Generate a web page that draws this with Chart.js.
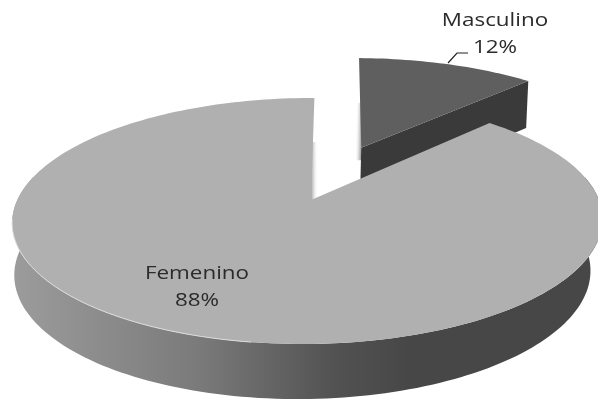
<!DOCTYPE html>
<html>
<head>
<meta charset="utf-8">
<script src="https://cdn.jsdelivr.net/npm/chart.js@4"></script>
<style>
  html, body { margin: 0; padding: 0; background: #fff; }
  #box { width: 598px; height: 400px; }
</style>
</head>
<body>
<div id="box"><canvas id="chart" width="598" height="400"></canvas></div>
<script>
const categories = ['Masculino', 'Femenino'];
const shares = [12, 88];
const sliceColors = ['#5f5f5f', '#b0b0b0'];
const cutColors = ['#3a3a3a', '#a2a2a2'];

// the pie plane as Excel's 3D view shows it: tilted, with some perspective
const view = { x: 311, y: 200, a: 290.8, b: 119.4, k: -0.1707, m: 0.0098, s: -4 };

function project(px, py, drop) {
  const w = 1 + view.k * py + view.m * px;
  const sx = view.x + (view.a * px + view.s * py) / w;
  const sy = view.y + view.b * py / w;
  if (!drop) return [sx, sy];
  // the bottom rim sits a bit narrower and further left than the top one
  return [303 + (sx - 308) * 0.976, sy + 73 - 21.6 * w];
}

function trace(ctx, pts, move) {
  pts.forEach((p, i) => {
    if (i === 0 && move) ctx.moveTo(p[0], p[1]);
    else ctx.lineTo(p[0], p[1]);
  });
}

// angles come straight from the arc element chart.js laid out
function rim(arc, from, to, drop) {
  const d = arc.options.offset / arc.outerRadius;
  const mid = (arc.startAngle + arc.endAngle) / 2;
  const ox = Math.cos(mid) * d;
  const oy = Math.sin(mid) * d;
  const pts = [];
  const n = Math.max(2, Math.ceil(Math.abs(to - from) * 40));
  for (let i = 0; i <= n; i++) {
    const t = from + (to - from) * i / n;
    pts.push(project(ox + Math.cos(t), oy + Math.sin(t), drop));
  }
  pts.centre = project(ox, oy, drop);
  return pts;
}

function drawMasculino(ctx, arc, color, cut) {
  const top = rim(arc, arc.startAngle, arc.endAngle, false);
  const low = rim(arc, arc.endAngle, arc.endAngle, true);
  const apex = top.centre;
  const lowApex = [apex[0], low.centre[1]];
  const end = top[top.length - 1];
  ctx.save();
  // small correction so the pulled out slice lands where the picture has it
  ctx.transform(1.0337, 0.00307, -0.02426, 1.0226, -12.76, -2.42);
  // faint shade left of the slice, the back of the gap
  const g = ctx.createLinearGradient(apex[0] - 6, 0, apex[0], 0);
  g.addColorStop(0, 'rgba(255,255,255,0)');
  g.addColorStop(1, '#9a9a9a');
  ctx.fillStyle = g;
  ctx.fillRect(apex[0] - 6, 102, 6, 56);
  // cut face on the right side of the slice
  ctx.fillStyle = cut;
  ctx.beginPath();
  ctx.moveTo(apex[0], apex[1]);
  ctx.lineTo(end[0], end[1]);
  ctx.lineTo(end[0] - 1, end[1] + 46);
  ctx.lineTo(lowApex[0], lowApex[1]);
  ctx.closePath();
  ctx.fill();
  // top face
  ctx.fillStyle = color;
  ctx.beginPath();
  ctx.moveTo(apex[0], apex[1]);
  trace(ctx, top, false);
  ctx.closePath();
  ctx.fill();
  ctx.restore();
}

function drawFemenino(ctx, arc, color, cut) {
  const top = rim(arc, arc.startAngle, arc.endAngle, false);
  // outer wall, only the front half shows
  const wallTop = rim(arc, -0.2, Math.PI + 0.2, false);
  const wallLow = rim(arc, Math.PI + 0.2, -0.2, true);
  const grad = ctx.createLinearGradient(12, 0, 598, 0);
  grad.addColorStop(0, '#9c9c9c');
  grad.addColorStop(0.32, '#7a7a7a');
  grad.addColorStop(0.55, '#525252');
  grad.addColorStop(0.68, '#474747');
  grad.addColorStop(1, '#474747');
  ctx.fillStyle = grad;
  ctx.beginPath();
  trace(ctx, wallTop, true);
  trace(ctx, wallLow, false);
  ctx.closePath();
  ctx.fill();

  // cut face along the vertical edge of the gap
  const c = project(0, 0, false);
  const strip = ctx.createLinearGradient(c[0], 0, c[0] + 7, 0);
  strip.addColorStop(0, cut);
  strip.addColorStop(1, 'rgba(255,255,255,0)');
  ctx.fillStyle = strip;
  ctx.fillRect(c[0], 142, 7, c[1] - 142);

  // top face
  ctx.fillStyle = color;
  ctx.beginPath();
  ctx.moveTo(top.centre[0], top.centre[1]);
  trace(ctx, top, false);
  ctx.closePath();
  ctx.fill();

  // pale rim along the front edge
  ctx.strokeStyle = '#dcdcdc';
  ctx.lineWidth = 1;
  ctx.beginPath();
  trace(ctx, rim(arc, Math.PI * 0.55, Math.PI * 0.95, false), true);
  ctx.stroke();
}

function stretchedLabel(ctx, lines, x, y) {
  ctx.save();
  ctx.translate(x, y);
  ctx.scale(1.18, 1);
  ctx.font = '19px "Open Sans"';
  ctx.fillStyle = '#2b2b2b';
  ctx.textAlign = 'center';
  ctx.textBaseline = 'middle';
  ctx.fillText(lines[0], 0, 0);
  ctx.fillText(lines[1], 0, 27);
  ctx.restore();
}

const pie3d = {
  id: 'pie3d',
  beforeDatasetDraw(chart, args) {
    const ctx = chart.ctx;
    const arcs = chart.getDatasetMeta(args.index).data;
    ctx.save();
    ctx.filter = 'blur(0.7px)';
    drawMasculino(ctx, arcs[0], sliceColors[0], cutColors[0]);
    drawFemenino(ctx, arcs[1], sliceColors[1], cutColors[1]);
    ctx.restore();

    const total = shares.reduce((s, v) => s + v, 0);
    const pct = i => Math.round(shares[i] / total * 100) + '%';
    stretchedLabel(ctx, [categories[0], pct(0)], 495, 21);
    stretchedLabel(ctx, [categories[1], pct(1)], 197, 274);

    // leader line to the small slice
    ctx.strokeStyle = '#222';
    ctx.lineWidth = 1.2;
    ctx.beginPath();
    ctx.moveTo(448, 63);
    ctx.lineTo(457, 53);
    ctx.lineTo(468, 53);
    ctx.stroke();
    return false;
  }
};

new Chart(document.getElementById('chart'), {
  type: 'pie',
  data: {
    labels: categories,
    datasets: [{
      data: shares,
      backgroundColor: sliceColors,
      borderWidth: 0,
      offset: [84, 0]
    }]
  },
  options: {
    responsive: false,
    animation: false,
    plugins: { legend: { display: false }, tooltip: { enabled: false } }
  },
  plugins: [pie3d]
});
</script>
</body>
</html>
